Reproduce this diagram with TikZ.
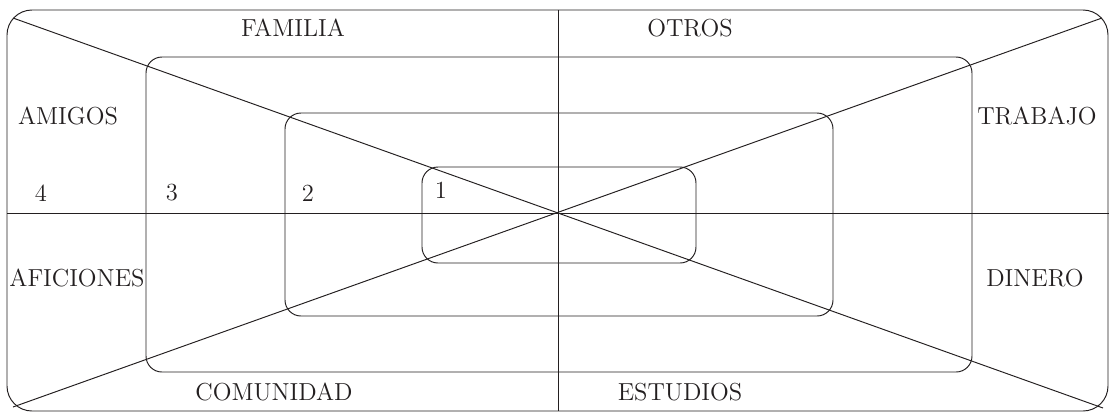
\documentclass[tikz,border=0pt]{standalone}
\usepackage{xcolor}
\usepackage{tikz}
\usetikzlibrary{positioning}
\definecolor{Ink}{HTML}{231F20}
\tikzset{
  ring/.style={Ink,line width=0.55pt,rounded corners=0.32cm},
  axis/.style={Ink,line width=0.55pt},
  area/.style={Ink,font=\fontsize{14}{16}\selectfont,inner sep=0pt},
  level/.style={Ink,font=\fontsize{14}{16}\selectfont,inner sep=0pt}
}

\begin{document}
\begin{tikzpicture}[x=0.02cm,y=-0.02cm]
  \useasboundingbox (0,0) rectangle (1109,414);
  \coordinate (O) at (558,213);
  \coordinate (W) at (7,213);
  \coordinate (E) at (1109,213);
  \coordinate (N) at (558,10);
  \coordinate (S) at (558,411);
  \coordinate (NW) at (13,18);
  \coordinate (SE) at (1103,408);
  \coordinate (SW) at (13,407);
  \coordinate (NE) at (1102,18);
  % rings
  \draw[ring,rounded corners=0.5cm] (7,10) rectangle (1108,411);
  \draw[ring] (146,57) rectangle (972,372);
  \draw[ring] (285,113) rectangle (833,316);
  \draw[ring] (422,167) rectangle (696,263);
  % axes
  \draw[axis] (W) -- (E);
  \draw[axis] (N) -- (S);
  \draw[axis] (NW) -- (SE);
  \draw[axis] (SW) -- (NE);
  % areas
  \node[area] (familia) at (293,28) {FAMILIA};
  \node[area] (otros) at (690,28) {OTROS};
  \node[area] (amigos) at (68,116) {AMIGOS};
  \node[area] (trabajo) at (1037,116) {TRABAJO};
  \node[area] (aficiones) at (77,278) {AFICIONES};
  \node[area] (dinero) at (1035,278) {DINERO};
  \node[area] (comunidad) at (274,392) {COMUNIDAD};
  \node[area] (estudios) at (680,392) {ESTUDIOS};
  % levels
  \node[level] (l4) at (41,193) {4};
  \node[level] (l3) at (172,193) {3};
  \node[level] (l2) at (308,193) {2};
  \node[level] (l1) at (441,190) {1};
\end{tikzpicture}
\end{document}
